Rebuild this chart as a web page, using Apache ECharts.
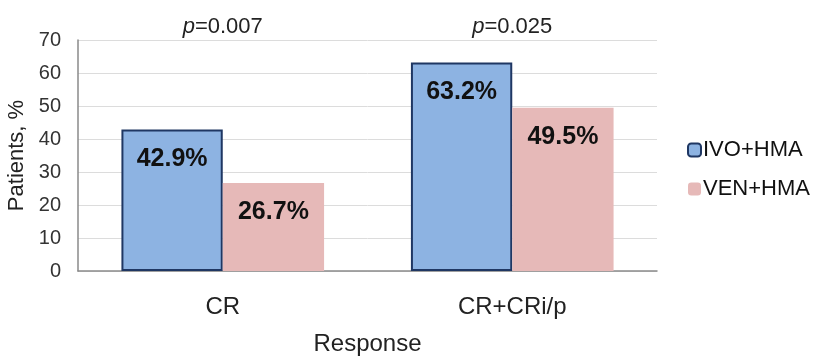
<!DOCTYPE html>
<html><head><meta charset="utf-8">
<script src="https://cdn.jsdelivr.net/npm/echarts@6/dist/echarts.min.js"></script>
<style>html,body{margin:0;padding:0;background:#fff}#c{width:825px;height:356px}</style>
</head><body><div id="c"></div>
<script>
var categories = ['CR', 'CR+CRi/p'];
var pValues = ['0.007', '0.025'];
var ivoHma = [42.9, 63.2];
var venHma = [26.7, 49.5];
var seriesNames = ['IVO+HMA', 'VEN+HMA'];

var chart = echarts.init(document.getElementById('c'));
var font = 'Arial, "Liberation Sans", sans-serif';
chart.setOption({
  animation: false,
  textStyle: {fontFamily: font},
  grid: {left: 78, right: 168, top: 40, bottom: 85, containLabel: false, outerBoundsMode: 'none'},
  legend: {
    orient: 'vertical', left: 682, top: 134, itemGap: 17,
    itemWidth: 13, itemHeight: 13,
    textStyle: {fontSize: 22, color: '#111', fontFamily: font, padding: [0, 0, 0, -3]},
    data: seriesNames
  },
  xAxis: [{
    type: 'category', data: categories, position: 'bottom',
    axisLine: {lineStyle: {color: '#8a8a8a', width: 1.5}},
    axisTick: {show: false},
    axisLabel: {fontSize: 24, color: '#222', margin: 24},
    name: 'Response', nameLocation: 'middle', nameGap: 61,
    nameTextStyle: {fontSize: 24, color: '#222'}
  }, {
    type: 'category', data: pValues, position: 'top',
    axisLine: {show: false}, axisTick: {show: false},
    axisLabel: {
      margin: 2,
      formatter: function (v) { return '{i|p}{n|=' + v + '}'; },
      rich: {
        i: {fontSize: 22, fontStyle: 'italic', color: '#222', fontFamily: font},
        n: {fontSize: 22, color: '#222', fontFamily: font}
      }
    }
  }],
  yAxis: {
    type: 'value', min: 0, max: 70, interval: 10,
    axisLine: {show: true, lineStyle: {color: '#8a8a8a', width: 1.5}},
    axisTick: {show: false},
    splitLine: {lineStyle: {color: '#dcdcdc'}},
    axisLabel: {fontSize: 20, color: '#333', margin: 17},
    name: 'Patients, %', nameLocation: 'middle', nameGap: 50,
    nameTextStyle: {fontSize: 22, color: '#222'}
  },
  series: [{
    name: seriesNames[0], type: 'bar', data: ivoHma,
    barGap: '0%', barCategoryGap: '30%',
    itemStyle: {color: '#8db3e2', borderColor: '#1f3763', borderWidth: 2},
    label: {show: true, position: 'insideTop', distance: 17, fontSize: 25, fontWeight: 'bold', color: '#111', formatter: '{c}%'}
  }, {
    name: seriesNames[1], type: 'bar', data: venHma,
    itemStyle: {color: '#e6b9b8'},
    label: {show: true, position: 'insideTop', distance: 17, fontSize: 25, fontWeight: 'bold', color: '#111', formatter: '{c}%'}
  }]
});
</script></body></html>
